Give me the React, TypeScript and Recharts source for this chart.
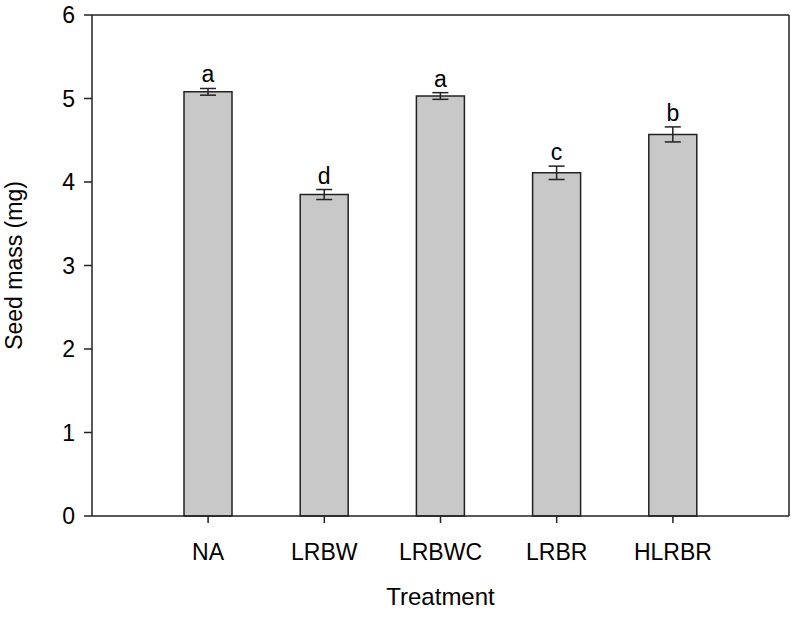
import { Bar, BarChart, ErrorBar, LabelList, XAxis, YAxis } from "recharts";

const treatments = ["NA", "LRBW", "LRBWC", "LRBR", "HLRBR"];
const seedMass = [5.08, 3.85, 5.03, 4.11, 4.57];
const seedErr = [0.04, 0.06, 0.04, 0.08, 0.09];
const letters = ["a", "d", "a", "c", "b"];
const yTicks = [0, 1, 2, 3, 4, 5, 6];

const FONT = '"Liberation Sans", Arial, Helvetica, sans-serif';
const INK = "#222";

const data = treatments.map((t, i) => ({
  name: t,
  mass: seedMass[i],
  err: seedErr[i],
  letter: letters[i],
}));

function LetterLabel(props: any) {
  const { x, y, width, height, index } = props;
  const perUnit = height / seedMass[index];
  const errPx = seedErr[index] * perUnit;
  return (
    <text
      x={x + width / 2}
      y={y - errPx - 6}
      textAnchor="middle"
      fontSize={23}
      fontFamily={FONT}
      fill="#000"
    >
      {letters[index]}
    </text>
  );
}

function YTitle(props: any) {
  const vb = props.viewBox;
  const cy = vb.y + vb.height / 2;
  return (
    <text
      x={14}
      y={cy}
      transform={`rotate(-90, 14, ${cy})`}
      textAnchor="middle"
      dominantBaseline="central"
      fontSize={23}
      fontFamily={FONT}
      fill="#000"
    >
      Seed mass (mg)
    </text>
  );
}

export default function App() {
  return (
    <div style={{ position: "absolute", left: 0, top: 0, background: "#fff" }}>
      <BarChart
        width={791}
        height={618}
        data={data}
        margin={{ top: 14, right: 1, bottom: 0, left: 0 }}
      >
        <XAxis
          dataKey="name"
          padding={{ left: 58, right: 58 }}
          height={102}
          tickSize={7}
          tickMargin={21}
          stroke={INK}
          strokeWidth={1.5}
          tick={{ fontSize: 23, fontFamily: FONT, fill: "#000" }}
          label={{
            value: "Treatment",
            position: "insideBottom",
            offset: 13,
            fontSize: 24,
            fontFamily: FONT,
            fill: "#000",
          }}
        />
        <XAxis
          xAxisId="frame"
          dataKey="name"
          orientation="top"
          height={1}
          tick={false}
          tickLine={false}
          stroke={INK}
          strokeWidth={1.5}
        />
        <YAxis
          domain={[0, 6]}
          ticks={yTicks}
          width={92}
          tickSize={8}
          tickMargin={9}
          stroke={INK}
          strokeWidth={1.5}
          tick={{ fontSize: 23, fontFamily: FONT, fill: "#000" }}
          label={{ content: YTitle }}
        />
        <YAxis
          yAxisId="frame"
          orientation="right"
          domain={[0, 6]}
          width={1}
          tick={false}
          tickLine={false}
          stroke={INK}
          strokeWidth={1.5}
        />
        <Bar
          dataKey="mass"
          barSize={48}
          fill="#c8c8c8"
          stroke={INK}
          strokeWidth={1.5}
          isAnimationActive={false}
        >
          <ErrorBar
            dataKey="err"
            width={8}
            stroke={INK}
            strokeWidth={1.5}
            isAnimationActive={false}
          />
          <LabelList dataKey="letter" content={LetterLabel} />
        </Bar>
      </BarChart>
    </div>
  );
}
